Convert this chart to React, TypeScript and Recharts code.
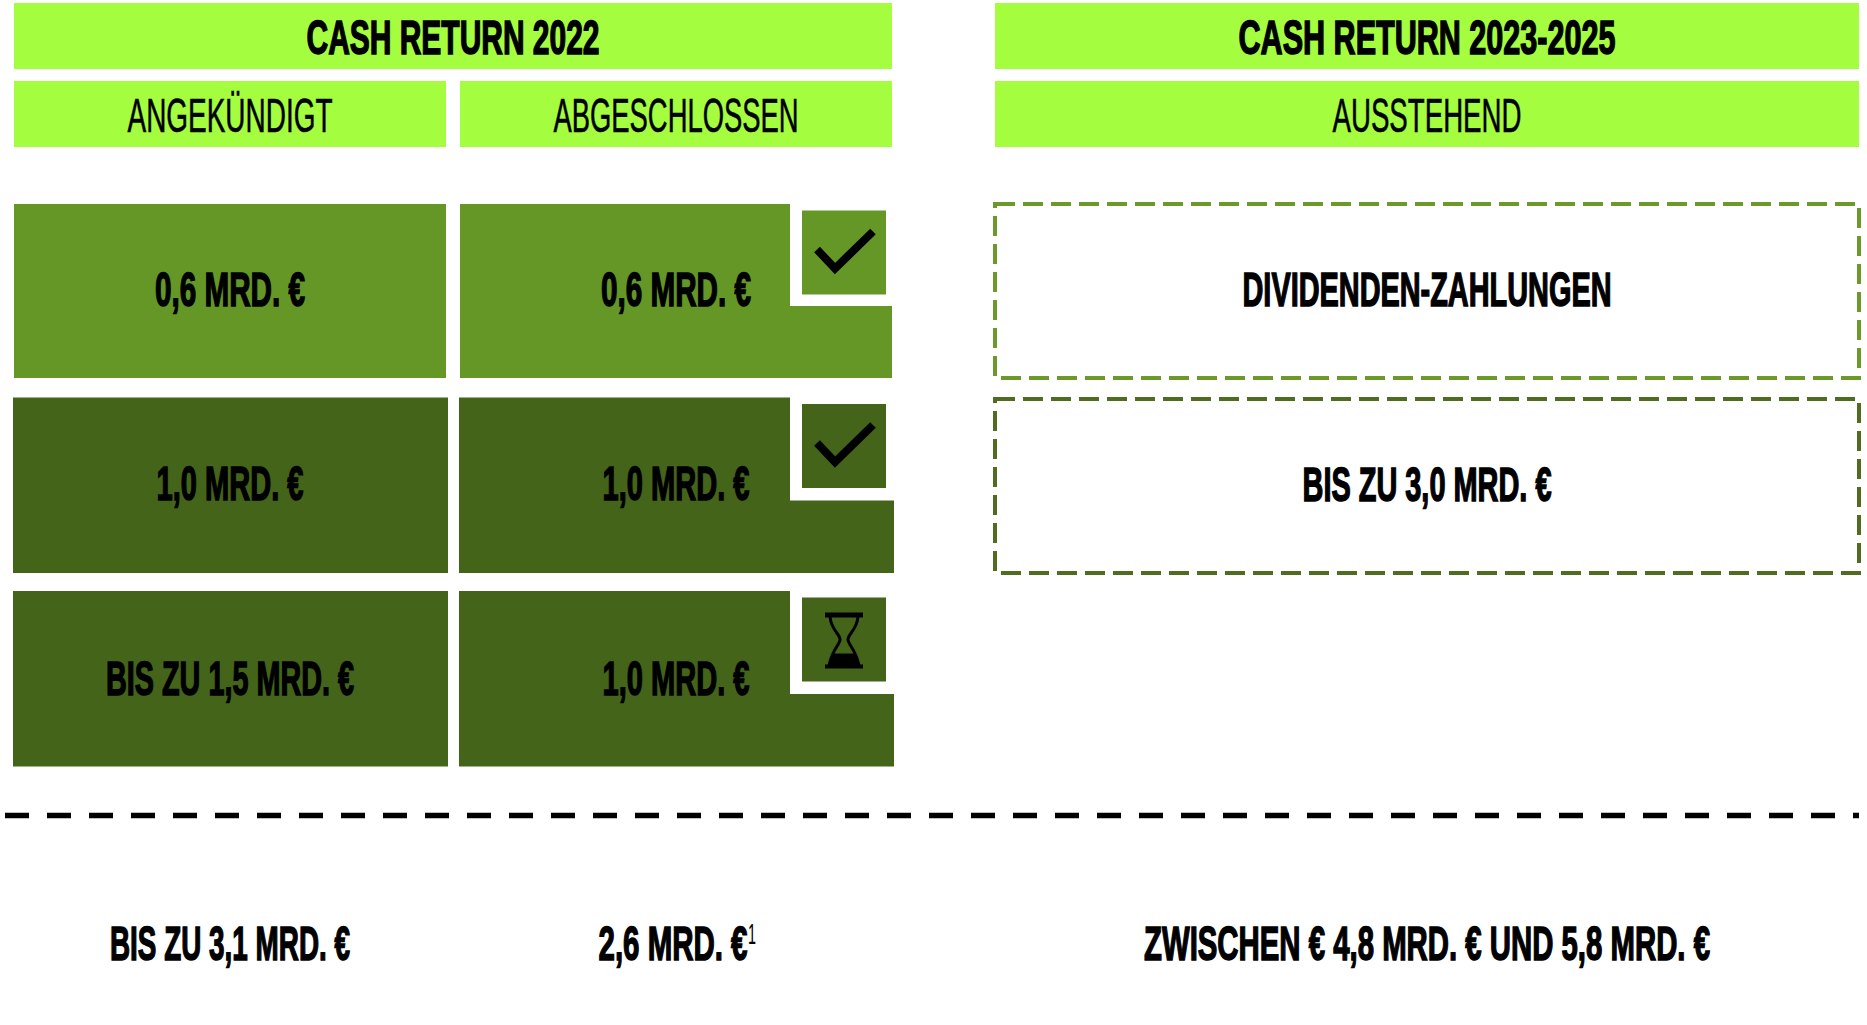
import { Bar, BarChart, LabelList, XAxis, YAxis } from 'recharts';

// table content
const columns2022 = ['ANGEKÜNDIGT', 'ABGESCHLOSSEN'];
const row1Labels = ['0,6 MRD. €', '0,6 MRD. €'];
const row2Labels = ['1,0 MRD. €', '1,0 MRD. €'];
const row3Labels = ['BIS ZU 1,5 MRD. €', '1,0 MRD. €'];
const totals2022 = ['BIS ZU 3,1 MRD. €', '2,6 MRD. €'];
const footnotes2022 = ['', '1'];
const rowStatus = ['done', 'done', 'pending'];

const columnsLater = ['AUSSTEHEND'];
const laterRow1Labels = ['DIVIDENDEN-ZAHLUNGEN'];
const laterRow2Labels = ['BIS ZU 3,0 MRD. €'];
const totalsLater = ['ZWISCHEN € 4,8 MRD. € UND 5,8 MRD. €'];

const data2022 = columns2022.map((column, i) => ({
    column,
    total: totals2022[i],
    footnote: footnotes2022[i],
    row1: 1,
    row2: 1,
    row3: 1,
    label1: row1Labels[i],
    label2: row2Labels[i],
    label3: row3Labels[i],
}));

const dataLater = columnsLater.map((column, i) => ({
    column,
    total: totalsLater[i],
    footnote: '',
    row1: 1,
    row2: 1,
    label1: laterRow1Labels[i],
    label2: laterRow2Labels[i],
}));

const colors = {
    lime: '#a4fd3e',
    mid: '#659726',
    dark: '#44641a',
    dashMid: '#6c9a2a',
    dashDark: '#4f6c20',
};

const FONT = '"Liberation Sans Narrow", "Liberation Sans", sans-serif';

// rendered width of each label in px, text is squeezed to this
const textWidths: Record<string, number> = {
    'CASH RETURN 2022': 293,
    'CASH RETURN 2023-2025': 377,
    'ANGEKÜNDIGT': 205,
    'ABGESCHLOSSEN': 245,
    'AUSSTEHEND': 189,
    '0,6 MRD. €': 150,
    '1,0 MRD. €': 147,
    'BIS ZU 1,5 MRD. €': 248,
    'DIVIDENDEN-ZAHLUNGEN': 369,
    'BIS ZU 3,0 MRD. €': 249,
    'BIS ZU 3,1 MRD. €': 240,
    '2,6 MRD. €': 149,
    'ZWISCHEN € 4,8 MRD. € UND 5,8 MRD. €': 566,
};

const FitText = ({ x, y, value, bold = true }: { x: number; y: number; value: string; bold?: boolean }) => (
    <text
        x={x}
        y={y}
        textAnchor="middle"
        fontFamily={FONT}
        fontSize={48}
        fontWeight={bold ? 700 : 400}
        fill="#000"
        stroke="#000"
        strokeWidth={bold ? 1.5 : 0.6}
        textLength={textWidths[value]}
        lengthAdjust="spacingAndGlyphs"
    >
        {value}
    </text>
);

const HeaderTick = ({ x, payload, halfWidth }: any) => (
    <g>
        <rect x={x - halfWidth} y={81} width={halfWidth * 2} height={66} fill={colors.lime} />
        <FitText x={x} y={132} value={payload.value} bold={false} />
    </g>
);

const TotalTick = ({ x, payload, footnote }: any) => {
    const mark = footnote ? footnote[payload.value] : '';
    return (
        <g>
            <FitText x={mark ? x - 3 : x} y={960} value={payload.value} />
            {mark ? (
                <text
                    x={x + 72}
                    y={944}
                    fontFamily={FONT}
                    fontSize={29}
                    fontWeight={400}
                    fill="#000"
                    textLength={8}
                    lengthAdjust="spacingAndGlyphs"
                >
                    {mark}
                </text>
            ) : null}
        </g>
    );
};

const CheckIcon = ({ x, y }: { x: number; y: number }) => (
    <polyline
        points={`${x + 15},${y + 39} ${x + 33},${y + 58} ${x + 71},${y + 21}`}
        fill="none"
        stroke="#000"
        strokeWidth={8}
        strokeLinejoin="miter"
    />
);

const HourglassIcon = ({ x, y }: { x: number; y: number }) => {
    const cx = x + 42;
    return (
        <g>
            <rect x={cx - 19} y={y + 15} width={38} height={5} fill="#000" />
            <rect x={cx - 19} y={y + 67} width={38} height={4} fill="#000" />
            <path
                d={`M${cx - 14},${y + 19} C${cx - 13},${y + 33} ${cx - 4},${y + 36} ${cx - 4},${y + 42} C${cx - 4},${y + 47} ${cx - 12},${y + 52} ${cx - 15},${y + 68}
                    M${cx + 14},${y + 19} C${cx + 13},${y + 33} ${cx + 4},${y + 36} ${cx + 4},${y + 42} C${cx + 4},${y + 47} ${cx + 12},${y + 52} ${cx + 15},${y + 68}`}
                fill="none"
                stroke="#000"
                strokeWidth={3}
            />
            <path d={`M${cx - 10},${y + 56} L${cx + 10},${y + 56} Q${cx + 14},${y + 62} ${cx + 15},${y + 68} L${cx - 15},${y + 68} Q${cx - 14},${y + 62} ${cx - 10},${y + 56} Z`} fill="#000" />
        </g>
    );
};

// one table cell: plain in the first column, cut out for a status icon in the second
const CellShape = ({ x, y, width, height, index, rowIndex, fill }: any) => {
    const top = Math.min(y, y + height);
    const slot = Math.abs(height);
    const grow = rowIndex === 0 ? 0 : 1;
    const left = x - grow;
    const right = x + width + grow * 2;
    const bottom = top + slot - (rowIndex === 0 ? 19.5 : 18);
    if (index === 0) {
        return <rect x={left} y={top} width={right - left} height={bottom - top} fill={fill} />;
    }
    const notchX = 790;
    const notchY = top + (rowIndex === 0 ? 102 : 103);
    const iconY = top + 6.5;
    return (
        <g>
            <path d={`M${left},${top} L${notchX},${top} L${notchX},${notchY} L${right},${notchY} L${right},${bottom} L${left},${bottom} Z`} fill={fill} />
            <rect x={802} y={iconY} width={84} height={84} fill={fill} />
            {rowStatus[rowIndex] === 'done' ? <CheckIcon x={802} y={iconY} /> : <HourglassIcon x={802} y={iconY} />}
        </g>
    );
};

const DashedCell = ({ x, y, width, height, fill }: any) => (
    <rect x={x} y={Math.min(y, y + height)} width={width} height={174} fill="none" stroke={fill} strokeWidth={4} strokeDasharray="20 8" />
);

const CellLabel = ({ x, y, width, height, value, baseline }: any) => (
    <FitText x={x + width / 2} y={Math.min(y, y + height) + baseline} value={value} />
);

const TitleBand = ({ x, width, value }: { x: number; width: number; value: string }) => (
    <g>
        <rect x={x} y={3} width={width} height={66} fill={colors.lime} />
        <FitText x={x + width / 2} y={54} value={value} />
    </g>
);

const footnotesByTotal = Object.fromEntries(data2022.map((d) => [d.total, d.footnote]));

export default function App() {
    return (
        <div style={{ position: 'absolute', left: 0, top: 0, width: 1867, height: 1025, background: '#fff', overflow: 'hidden' }}>
            <div style={{ position: 'absolute', left: 0, top: 0 }}>
                <BarChart width={1867} height={1025} data={dataLater} barCategoryGap={0} margin={{ top: 0, right: 8, bottom: 0, left: 995 }}>
                    <XAxis
                        xAxisId="column"
                        dataKey="column"
                        orientation="top"
                        height={204}
                        axisLine={false}
                        tickLine={false}
                        tick={(p: any) => <HeaderTick {...p} halfWidth={432} />}
                    />
                    <XAxis
                        xAxisId="total"
                        dataKey="total"
                        orientation="bottom"
                        height={236}
                        axisLine={false}
                        tickLine={false}
                        tick={(p: any) => <TotalTick {...p} />}
                    />
                    <YAxis hide reversed type="number" domain={[0, 3]} />
                    <Bar xAxisId="column" dataKey="row1" stackId="cells" fill={colors.dashMid} isAnimationActive={false} shape={<DashedCell />}>
                        <LabelList dataKey="label1" content={(p: any) => <CellLabel {...p} baseline={102} />} />
                    </Bar>
                    <Bar xAxisId="column" dataKey="row2" stackId="cells" fill={colors.dashDark} isAnimationActive={false} shape={<DashedCell />}>
                        <LabelList dataKey="label2" content={(p: any) => <CellLabel {...p} baseline={102} />} />
                    </Bar>
                    <TitleBand x={995} width={864} value="CASH RETURN 2023-2025" />
                    <line x1={5} x2={1859} y1={815.5} y2={815.5} stroke="#000" strokeWidth={5.5} strokeDasharray="24 18" />
                </BarChart>
            </div>
            <div style={{ position: 'absolute', left: 0, top: 0 }}>
                <BarChart width={899} height={1025} data={data2022} barCategoryGap={7} margin={{ top: 0, right: 0, bottom: 0, left: 7 }}>
                    <XAxis
                        xAxisId="column"
                        dataKey="column"
                        orientation="top"
                        height={204}
                        axisLine={false}
                        tickLine={false}
                        tick={(p: any) => <HeaderTick {...p} halfWidth={216} />}
                    />
                    <XAxis
                        xAxisId="total"
                        dataKey="total"
                        orientation="bottom"
                        height={240.5}
                        axisLine={false}
                        tickLine={false}
                        tick={(p: any) => <TotalTick {...p} footnote={footnotesByTotal} />}
                    />
                    <YAxis hide reversed type="number" domain={[0, 3]} />
                    <Bar xAxisId="column" dataKey="row1" stackId="cells" fill={colors.mid} isAnimationActive={false} shape={(p: any) => <CellShape {...p} rowIndex={0} />}>
                        <LabelList dataKey="label1" content={(p: any) => <CellLabel {...p} baseline={102} />} />
                    </Bar>
                    <Bar xAxisId="column" dataKey="row2" stackId="cells" fill={colors.dark} isAnimationActive={false} shape={(p: any) => <CellShape {...p} rowIndex={1} />}>
                        <LabelList dataKey="label2" content={(p: any) => <CellLabel {...p} baseline={102} />} />
                    </Bar>
                    <Bar xAxisId="column" dataKey="row3" stackId="cells" fill={colors.dark} isAnimationActive={false} shape={(p: any) => <CellShape {...p} rowIndex={2} />}>
                        <LabelList dataKey="label3" content={(p: any) => <CellLabel {...p} baseline={104} />} />
                    </Bar>
                    <TitleBand x={14} width={878} value="CASH RETURN 2022" />
                </BarChart>
            </div>
        </div>
    );
}
